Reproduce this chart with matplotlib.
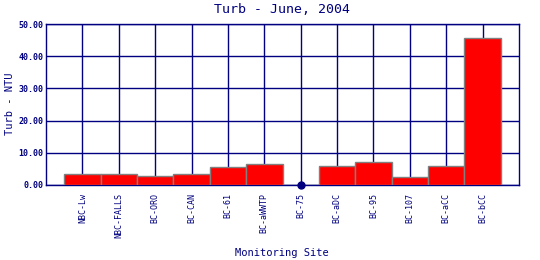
import numpy as np
import matplotlib
matplotlib.use("Agg")
import matplotlib.pyplot as plt

sites = ["NBC-Lw", "NBC-FALLS", "BC-ORO", "BC-CAN", "BC-61", "BC-aWWTP",
         "BC-75", "BC-aDC", "BC-95", "BC-107", "BC-aCC", "BC-bCC"]
turb = [3.3, 3.3, 2.7, 3.3, 5.6, 6.4, 0.0, 5.9, 7.0, 2.4, 5.9, 45.6]
yticks = [0, 10, 20, 30, 40, 50]

NAVY = "#000080"
plt.rcParams["font.family"] = ["DejaVu Sans Mono", "DejaVu Sans"]

fig = plt.figure(figsize=(5.4, 2.6), dpi=100)
ax = fig.add_axes([46 / 540, 75 / 260, 473 / 540, 161 / 260])

x = np.arange(1, len(sites) + 1)
vals = np.array(turb)
ax.bar(x, vals, width=1.0, color="red", edgecolor="#808080", linewidth=1.0, zorder=3)
zero = vals == 0
ax.plot(x[zero], vals[zero], "o", color=NAVY, markersize=5, zorder=4, clip_on=False)

ax.set_xlim(0, len(sites) + 1)
ax.set_ylim(0, 50)
ax.set_xticks(x)
ax.set_xticklabels(sites, rotation=90, fontsize=6, color=NAVY)
ax.set_yticks(yticks)
ax.set_yticklabels(["%.2f" % v for v in yticks], fontsize=6, color=NAVY,
                   fontweight="bold")
ax.tick_params(length=0)
ax.tick_params(axis="x", pad=6)
ax.tick_params(axis="y", pad=2)
ax.grid(True, color=NAVY, linewidth=1.0, zorder=1)
ax.set_axisbelow(True)
for s in ax.spines.values():
    s.set_color(NAVY)
    s.set_linewidth(1.0)

ax.set_title("Turb - June, 2004", color=NAVY, fontsize=9.5, pad=8)
fig.text(282 / 540, 1 - 253 / 260, "Monitoring Site", color=NAVY, fontsize=7.5,
         ha="center", va="center")
fig.text(10 / 540, 1 - 104 / 260, "Turb - NTU", color=NAVY, fontsize=7.5,
         ha="center", va="center", rotation=90)

fig.savefig("out.png", dpi=100)
